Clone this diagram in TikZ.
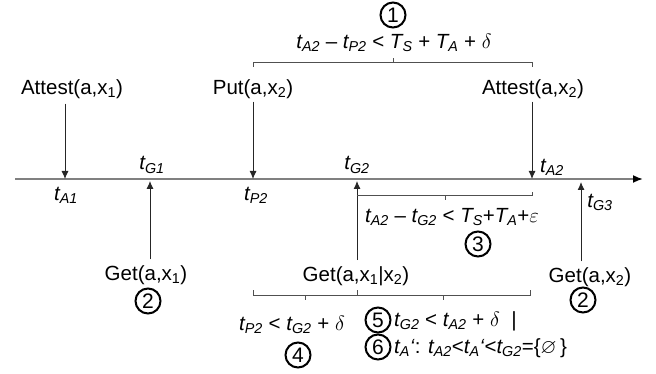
\documentclass[tikz,border=0pt]{standalone}
\usepackage{fontspec}
\usepackage{amssymb}
\setmainfont{Liberation Sans}
\usetikzlibrary{arrows.meta, positioning, calc}
\definecolor{axisGray}{HTML}{808080}
\definecolor{braceGray}{HTML}{505050}
\newcommand{\tv}[2]{\textit{#1\textsubscript{#2}}}

\begin{document}
\begin{tikzpicture}[x=1pt, y=-1pt,
    lbl/.style={font=\fontsize{20.5}{24}\selectfont, inner sep=0pt},
    evt/.style={black!85, line width=0.9pt, -{Latex[length=8pt, width=7pt]}},
    brk/.style={braceGray, line width=1pt},
    num/.style={circle, draw, line width=2pt, inner sep=0pt, minimum size=25pt, font=\fontsize{21}{24}\selectfont}]
    \useasboundingbox (0,0) rectangle (656,374);

    % Time axis
    \coordinate (t0) at (15,179);
    \coordinate (t1) at (643,179);
    \draw[axisGray, line width=1.8pt, -{Latex[black, length=10pt, width=8pt]}] (t0) -- (t1);
    \coordinate (pA1) at (65,179);
    \coordinate (pG1) at (150,179);
    \coordinate (pP2) at (253,179);
    \coordinate (pG2) at (357,179);
    \coordinate (pA2) at (532,179);
    \coordinate (pG3) at (581,179);

    % Events above the axis
    \node[lbl] (att1) at (72,89) {Attest(a,x\textsubscript{1})};
    \node[lbl] (put2) at (253,89) {Put(a,x\textsubscript{2})};
    \node[lbl] (att2) at (533,89) {Attest(a,x\textsubscript{2})};
    \draw[evt] ([yshift=-5pt]att1.south -| pA1) -- (pA1);
    \draw[evt] ([yshift=-3pt]put2.south -| pP2) -- (pP2);
    \draw[evt] ([yshift=-3pt]att2.south -| pA2) -- (pA2);

    % Events below the axis
    \node[lbl] (get1) at (146,275) {Get(a,x\textsubscript{1})};
    \node[lbl] (get12) at (356,276) {Get(a,x\textsubscript{1}|x\textsubscript{2})};
    \node[lbl] (get2) at (590,277) {Get(a,x\textsubscript{2})};
    \draw[evt] ([yshift=6pt]get1.north -| pG1) -- ($(pG1)+(0,2)$);
    \draw[evt] ([yshift=6pt]get12.north -| pG2) -- ($(pG2)+(0,2)$);
    \draw[evt] ([yshift=6pt]get2.north -| pG3) -- ($(pG3)+(0,3)$);

    % Time stamps
    \node[lbl] (tA1) at (66,195) {\tv{t}{A1}};
    \node[lbl] (tG1) at (152,165) {\tv{t}{G1}};
    \node[lbl] (tP2) at (256,195) {\tv{t}{P2}};
    \node[lbl] (tG2) at (357,165) {\tv{t}{G2}};
    \node[lbl] (tA2) at (552,167) {\tv{t}{A2}};
    \node[lbl] (tG3) at (600,202) {\tv{t}{G3}};

    % Brace 1
    \draw[brk] (253,67) |- (532,63) -- (532,67);
    \draw[brk] (393,63) -- (393,58);
    \node[lbl] (f1) at (394,43) {\tv{t}{A2} -- \tv{t}{P2} < \tv{T}{S} + \tv{T}{A} + $\delta$};
    \node[num] (n1) at (393,15) {1};

    % Brace 3
    \draw[brk] (357,196) -- (532,196) -- (532,192);
    \draw[brk] (445,196) -- (445,200);
    \node[lbl] (f3) at (452,217) {\tv{t}{A2} -- \tv{t}{G2} < \tv{T}{S}+\tv{T}{A}+$\varepsilon$};
    \node[num] (n3) at (478,244) {3};

    % Braces 4 and 5
    \draw[brk] (253,290) -- (253,295) -- (530,295) -- (530,290);
    \draw[brk] (357,290) -- (357,295);
    \draw[brk] (305,295) -- (305,300);
    \draw[brk] (443,295) -- (443,300);
    \node[lbl] (f4) at (292,325) {\tv{t}{P2} < \tv{t}{G2} + $\delta$};
    \node[num] (n4) at (298,355) {4};
    \node[num] (n5) at (378,320) {5};
    \node[lbl, anchor=west] (f5) at (394,321) {\tv{t}{G2} < \tv{t}{A2} + $\delta$\ \ \textit{|}};
    \node[num] (n6) at (378,347) {6};
    \node[lbl, anchor=west] (f6) at (394,348) {\textit{t\textsubscript{A}`}: \tv{t}{A2}<\textit{t\textsubscript{A}`}<\tv{t}{G2}=\{$\varnothing$\,\}};

    % Get labels
    \node[num] (n2a) at (148,301) {2};
    \node[num] (n2b) at (583,300) {2};
\end{tikzpicture}
\end{document}
